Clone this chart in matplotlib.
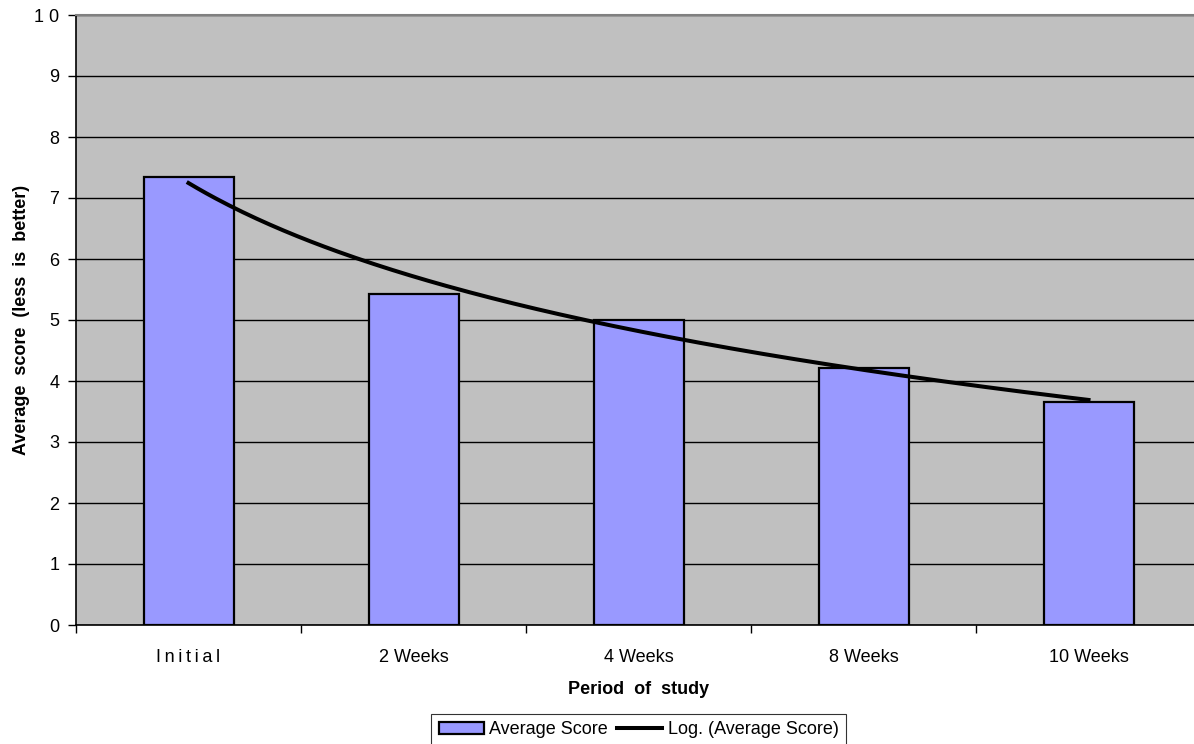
import matplotlib
matplotlib.use("Agg")
import matplotlib.pyplot as plt
import numpy as np
from matplotlib.ticker import FixedLocator, NullFormatter

plt.rcParams['font.family'] = ['Liberation Sans', 'DejaVu Sans']

# data ----------------------------------------------------------------------------
periods = ['Initial', '2 Weeks', '4 Weeks', '8 Weeks', '10 Weeks']
scores  = [7.35, 5.42, 5.0, 4.22, 3.66]      # average score (less is better)

# logarithmic trendline, like Excel's "Log." fit: y = a*ln(x) + b with x = 1..n
xs = np.arange(len(periods))
a, b = np.polyfit(np.log(xs + 1), scores, 1)
xt = np.linspace(0, len(periods) - 1, 200)
yt = a * np.log(xt + 1) + b

fig = plt.figure(figsize=(11.94, 7.44), dpi=100)
W, H = 1194, 744
left, right, top, bottom = 76, 1201, 15, 625
ax = fig.add_axes([left / W, 1 - bottom / H, (right - left) / W, (bottom - top) / H])
ax.set_facecolor('#C0C0C0')

bars = ax.bar(xs, scores, width=0.4, color='#9999FF', edgecolor='black', linewidth=1.6,
              zorder=3, label='Average Score')
line, = ax.plot(xt, yt, color='black', linewidth=2.9, zorder=4, label='Log. (Average Score)')

ax.set_xlim(-0.5, len(periods) - 0.5)
ax.set_ylim(0, 10)
ax.set_yticks(range(0, 11))
ax.set_yticklabels([str(v) for v in range(0, 10)] + ['1 0'])
ax.yaxis.grid(True, color='black', linewidth=1.0, zorder=1)
ax.set_axisbelow(True)

# category ticks sit between the bars, labels in the middle
ax.xaxis.set_major_locator(FixedLocator(np.arange(-0.5, len(periods), 1.0)))
ax.xaxis.set_major_formatter(NullFormatter())
ax.xaxis.set_minor_locator(FixedLocator(xs))
ax.set_xticklabels(['I n i t i a l'.replace(' ', '\u2009')] + periods[1:], minor=True)
ax.tick_params(axis='x', which='major', direction='out', length=6, width=1, color='black')
ax.tick_params(axis='x', which='minor', length=0, pad=17, labelsize=13)
ax.tick_params(axis='y', direction='out', length=6, width=1, pad=6, labelsize=13)

for s in ['left', 'bottom']:
    ax.spines[s].set_color('black')
    ax.spines[s].set_linewidth(1.2)
for s in ['top', 'right']:
    ax.spines[s].set_color('#808080')
    ax.spines[s].set_linewidth(1.5)

ax.set_xlabel('Period  of  study', fontsize=13, fontweight='bold', labelpad=11)
ax.set_ylabel('Average  score  (less  is  better)', fontsize=13, fontweight='bold', labelpad=3)

leg = fig.legend(handles=[bars, line], loc='upper center', ncol=2,
                 bbox_to_anchor=(((left + right) / 2) / W, 1 - 714 / H),
                 fontsize=13, frameon=True, fancybox=False, edgecolor='black',
                 handlelength=2.5, handletextpad=0.3, columnspacing=0.5,
                 borderpad=0.4, borderaxespad=0)
leg.get_frame().set_linewidth(0.8)

fig.savefig('out.png', dpi=100)
